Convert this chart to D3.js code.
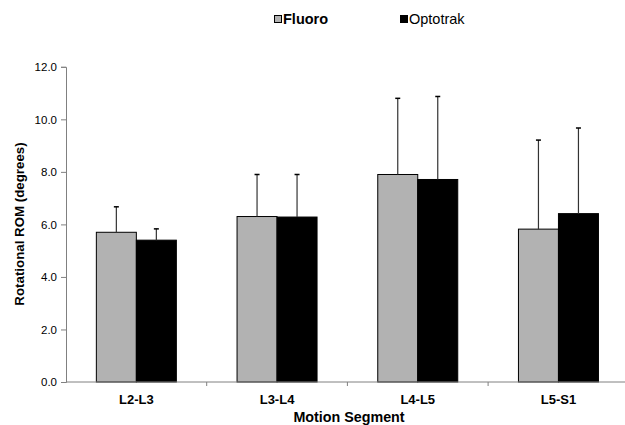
<!DOCTYPE html>
<html><head><meta charset="utf-8">
<script src="https://cdn.jsdelivr.net/npm/d3@7"></script>
<style>body{margin:0;background:#fff}svg{display:block}</style>
</head><body><svg id="c" width="625" height="425"></svg>
<script>
const categories = ["L2-L3","L3-L4","L4-L5","L5-S1"];
const seriesNames = ["Fluoro","Optotrak"];
const fluoro = [5.7, 6.3, 7.9, 5.82];
const fluoroErr = [0.97, 1.6, 2.9, 3.39];
const optotrak = [5.4, 6.28, 7.71, 6.41];
const optotrakErr = [0.43, 1.62, 3.16, 3.26];
const yTicks = [0,2,4,6,8,10,12];
const colors = ["#b2b2b2","#000000"];

const svg = d3.select("#c");
const font = "Liberation Sans, Arial, sans-serif";
const x = d3.scaleBand().domain(categories).range([66, 628.8]).padding(0);
const y = d3.scaleLinear().domain([0,12]).range([382, 66.8]);
const barW = 40;

const series = [
  {name: seriesNames[0], vals: fluoro, err: fluoroErr, color: colors[0]},
  {name: seriesNames[1], vals: optotrak, err: optotrakErr, color: colors[1]}
];

// y axis
const yAxis = svg.append("g").attr("transform","translate(66,0)")
  .call(d3.axisLeft(y).tickValues(yTicks).tickFormat(d3.format(".1f")).tickSizeOuter(0).tickSize(5));
yAxis.select(".domain").attr("stroke","#808080");
yAxis.selectAll(".tick line").attr("stroke","#808080");
yAxis.selectAll("text").attr("font-family",font).attr("font-size",11.5).attr("fill","#000").attr("dx","-1");

// bars
series.forEach((s,si)=>{
  const g = svg.append("g");
  g.selectAll("rect").data(categories).join("rect")
    .attr("x", d => x(d) + x.bandwidth()/2 - barW + si*barW)
    .attr("y", (d,i) => y(s.vals[i]))
    .attr("width", barW)
    .attr("height", (d,i) => y(0) - y(s.vals[i]))
    .attr("fill", s.color).attr("stroke","#000").attr("stroke-width",1);
  g.selectAll("line.e").data(categories).join("line").attr("class","e")
    .attr("x1", d => x(d) + x.bandwidth()/2 - barW/2 + si*barW)
    .attr("x2", d => x(d) + x.bandwidth()/2 - barW/2 + si*barW)
    .attr("y1", (d,i) => y(s.vals[i]))
    .attr("y2", (d,i) => y(s.vals[i] + s.err[i]))
    .attr("stroke","#333").attr("stroke-width",1.2);
  g.selectAll("line.c").data(categories).join("line").attr("class","c")
    .attr("x1", d => x(d) + x.bandwidth()/2 - barW/2 + si*barW - 2.5)
    .attr("x2", d => x(d) + x.bandwidth()/2 - barW/2 + si*barW + 2.5)
    .attr("y1", (d,i) => y(s.vals[i] + s.err[i]))
    .attr("y2", (d,i) => y(s.vals[i] + s.err[i]))
    .attr("stroke","#000").attr("stroke-width",1.5);
});

// x axis
const xg = svg.append("g").attr("transform","translate(0,382)");
xg.append("line").attr("x1",66).attr("x2",628.8).attr("stroke","#808080");
xg.selectAll("line.t").data(categories.slice(1)).join("line").attr("class","t")
  .attr("x1", d => x(d)).attr("x2", d => x(d)).attr("y1",0).attr("y2",4).attr("stroke","#808080");
xg.selectAll("text").data(categories).join("text")
  .attr("x", d => x(d) + x.bandwidth()/2).attr("y", 21.5)
  .attr("text-anchor","middle").attr("font-family",font).attr("font-weight","bold").attr("font-size",13)
  .text(d => d);

// axis titles
svg.append("text").attr("x",349).attr("y",421.5).attr("text-anchor","middle")
  .attr("font-family",font).attr("font-weight","bold").attr("font-size",14.3).text("Motion Segment");
svg.append("text").attr("transform","translate(24,224) rotate(-90)").attr("text-anchor","middle")
  .attr("font-family",font).attr("font-weight","bold").attr("font-size",13.3).text("Rotational ROM (degrees)");

// legend
const legX = [274, 400];
series.forEach((s,i)=>{
  svg.append("rect").attr("x",legX[i]+0.5).attr("y",15.5).attr("width",7).attr("height",7)
    .attr("fill",s.color).attr("stroke","#000").attr("stroke-width",1);
  svg.append("text").attr("x",legX[i]+9).attr("y",23.5)
    .attr("font-family",font).attr("font-size",14.5).attr("font-weight", i===0 ? "bold" : "normal")
    .text(s.name);
});
</script></body></html>
